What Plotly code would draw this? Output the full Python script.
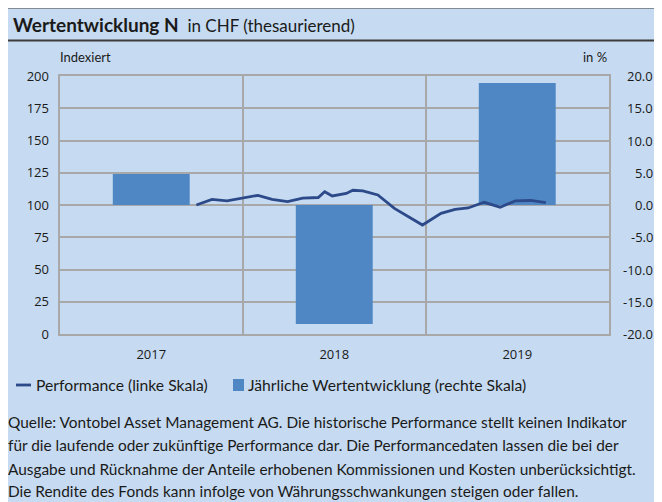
import plotly.graph_objects as go

# ---- data ----
years = ["2017", "2018", "2019"]
year_mid = ["2017-07-02", "2018-07-02", "2019-07-02"]
year_start = ["2017-01-01", "2018-01-01", "2019-01-01", "2020-01-01"]
annual_pct = [4.8, -18.45, 18.9]

perf_dates = [
    "2017-09-30", "2017-10-31", "2017-11-30", "2017-12-31",
    "2018-01-31", "2018-02-28", "2018-03-31", "2018-04-30", "2018-05-31",
    "2018-06-13", "2018-06-28", "2018-07-26", "2018-08-08", "2018-08-28",
    "2018-09-27", "2018-10-30", "2018-11-26", "2018-12-25",
    "2019-01-31", "2019-02-28", "2019-03-26", "2019-04-27", "2019-05-29",
    "2019-06-28", "2019-07-29", "2019-08-28",
]
perf_values = [
    100.0, 104.4, 103.2, 105.3,
    107.5, 104.3, 102.7, 105.4, 105.8,
    110.3, 107.0, 109.0, 111.4, 110.9,
    107.8, 97.4, 91.5, 84.5,
    93.5, 96.6, 97.7, 102.1, 98.3,
    103.2, 103.5, 101.8,
]

left_ticks = [0, 25, 50, 75, 100, 125, 150, 175, 200]
right_ticks = [-20, -15, -10, -5, 0, 5, 10, 15, 20]

# ---- style ----
BG = "#c6daf1"
BAR = "#4f87c5"
LINE = "#2c4a8a"
GRID = "#a8a8a8"
TXT = "#1a1a1a"
FONT = "Lato, 'Open Sans', sans-serif"
TICKFONT = "'Open Sans', 'DejaVu Sans', sans-serif"

W, H = 662, 502
OFF = 8  # page body margin
L, R, T, B = 52, 601, 68, 326  # plot area in figure pixels

BAR_WIDTH_MS = 0.42 * 365.25 * 24 * 3600 * 1000


def px(xpage):
    return ((xpage - OFF) - L) / (R - L)


def py(ypage):
    return (B - (ypage - OFF)) / (B - T)


fig = go.Figure()
# bars on the (right-scale) base axis, line on the overlaying (left-scale) axis so it is drawn on top
fig.add_trace(go.Bar(
    x=year_mid, y=annual_pct, yaxis="y",
    marker=dict(color=BAR, line=dict(width=0)), width=BAR_WIDTH_MS,
    name="Jährliche Wertentwicklung (rechte Skala)", showlegend=False,
))
fig.add_trace(go.Scatter(
    x=perf_dates, y=perf_values, yaxis="y2",
    mode="lines", line=dict(color=LINE, width=2.8),
    name="Performance (linke Skala)", showlegend=False,
))

shapes = [
    dict(type="line", xref="paper", yref="paper", x0=px(0), x1=px(W + 20), y0=py(7.5), y1=py(7.5),
         line=dict(color="#3c3c3c", width=2)),
    dict(type="line", xref="paper", yref="paper", x0=px(0), x1=px(W + 20), y0=py(40.5), y1=py(40.5),
         line=dict(color="#3c3c3c", width=2)),
    dict(type="line", xref="paper", yref="paper", x0=px(16), x1=px(31), y0=py(385), y1=py(385),
         line=dict(color=LINE, width=2.8)),
    dict(type="rect", xref="paper", yref="paper", x0=px(233), x1=px(244), y0=py(391), y1=py(379),
         fillcolor=BAR, line=dict(width=0)),
]

annotations = [
    dict(xref="paper", yref="paper", x=px(11), y=py(24), xanchor="left", yanchor="middle",
         text="<span style='font-size:19px'><b>Wertentwicklung N</b></span>  in CHF (thesaurierend)",
         showarrow=False, font=dict(family=FONT, size=17, color=TXT)),
    dict(xref="paper", yref="paper", x=px(58), y=py(57), xanchor="left", yanchor="middle",
         text="Indexiert", showarrow=False, font=dict(family=FONT, size=13, color=TXT)),
    dict(xref="paper", yref="paper", x=px(609), y=py(57), xanchor="right", yanchor="middle",
         text="in %", showarrow=False, font=dict(family=FONT, size=13, color=TXT)),
    dict(xref="paper", yref="paper", x=px(34), y=py(385), xanchor="left", yanchor="middle",
         text="Performance (linke Skala)", showarrow=False, font=dict(family=FONT, size=15.7, color=TXT)),
    dict(xref="paper", yref="paper", x=px(246), y=py(385), xanchor="left", yanchor="middle",
         text="Jährliche Wertentwicklung (rechte Skala)", showarrow=False,
         font=dict(family=FONT, size=15.7, color=TXT)),
]

# right-aligned right-axis tick labels, positioned by the right axis scale
for v in right_ticks:
    annotations.append(dict(xref="paper", yref="y", x=px(654), y=v, xanchor="right",
                            yanchor="middle", text=f"{v:.1f}", showarrow=False, borderpad=0,
                            font=dict(family=TICKFONT, size=13, color=TXT)))

foot_lines = [
    "Quelle: Vontobel Asset Management AG. Die historische Performance stellt keinen Indikator",
    "für die laufende oder zukünftige Performance dar. Die Performancedaten lassen die bei der",
    "Ausgabe und Rücknahme der Anteile erhobenen Kommissionen und Kosten unberücksichtigt.",
    "Die Rendite des Fonds kann infolge von Währungsschwankungen steigen oder fallen.",
]
foot_y = [422, 445.5, 468.5, 491]
for t, yy in zip(foot_lines, foot_y):
    annotations.append(dict(xref="paper", yref="paper", x=px(7), y=py(yy), xanchor="left",
                            yanchor="middle", text=t, showarrow=False, borderpad=0,
                            font=dict(family=FONT, size=15.4, color=TXT)))

fig.update_layout(
    width=W, height=H,
    margin=dict(l=L, r=W - R, t=T, b=H - B, pad=0),
    paper_bgcolor=BG, plot_bgcolor=BG,
    barmode="overlay",
    showlegend=False,
    shapes=shapes, annotations=annotations,
    xaxis=dict(type="date", range=["2017-01-01", "2020-01-01"],
               tickvals=year_mid, ticktext=years, showgrid=False, ticks="",
               minor=dict(tickvals=year_start, showgrid=True, gridcolor=GRID, gridwidth=1.5, ticks=""),
               showline=True, mirror=True, linecolor=GRID, linewidth=1.5, ticklabelstandoff=8,
               tickfont=dict(family=TICKFONT, size=13, color=TXT)),
    yaxis=dict(range=[-20, 20], tickvals=right_ticks, side="right", showticklabels=False,
               showgrid=True, gridcolor=GRID, gridwidth=1.5, zeroline=False, ticks="",
               showline=True, mirror=True, linecolor=GRID, linewidth=1.5),
    yaxis2=dict(range=[0, 200], tickvals=left_ticks, overlaying="y", side="left",
                showgrid=False, zeroline=False, ticks="", ticklabelstandoff=10,
                tickfont=dict(family=TICKFONT, size=13, color=TXT)),
)

fig.write_html("out.html")
